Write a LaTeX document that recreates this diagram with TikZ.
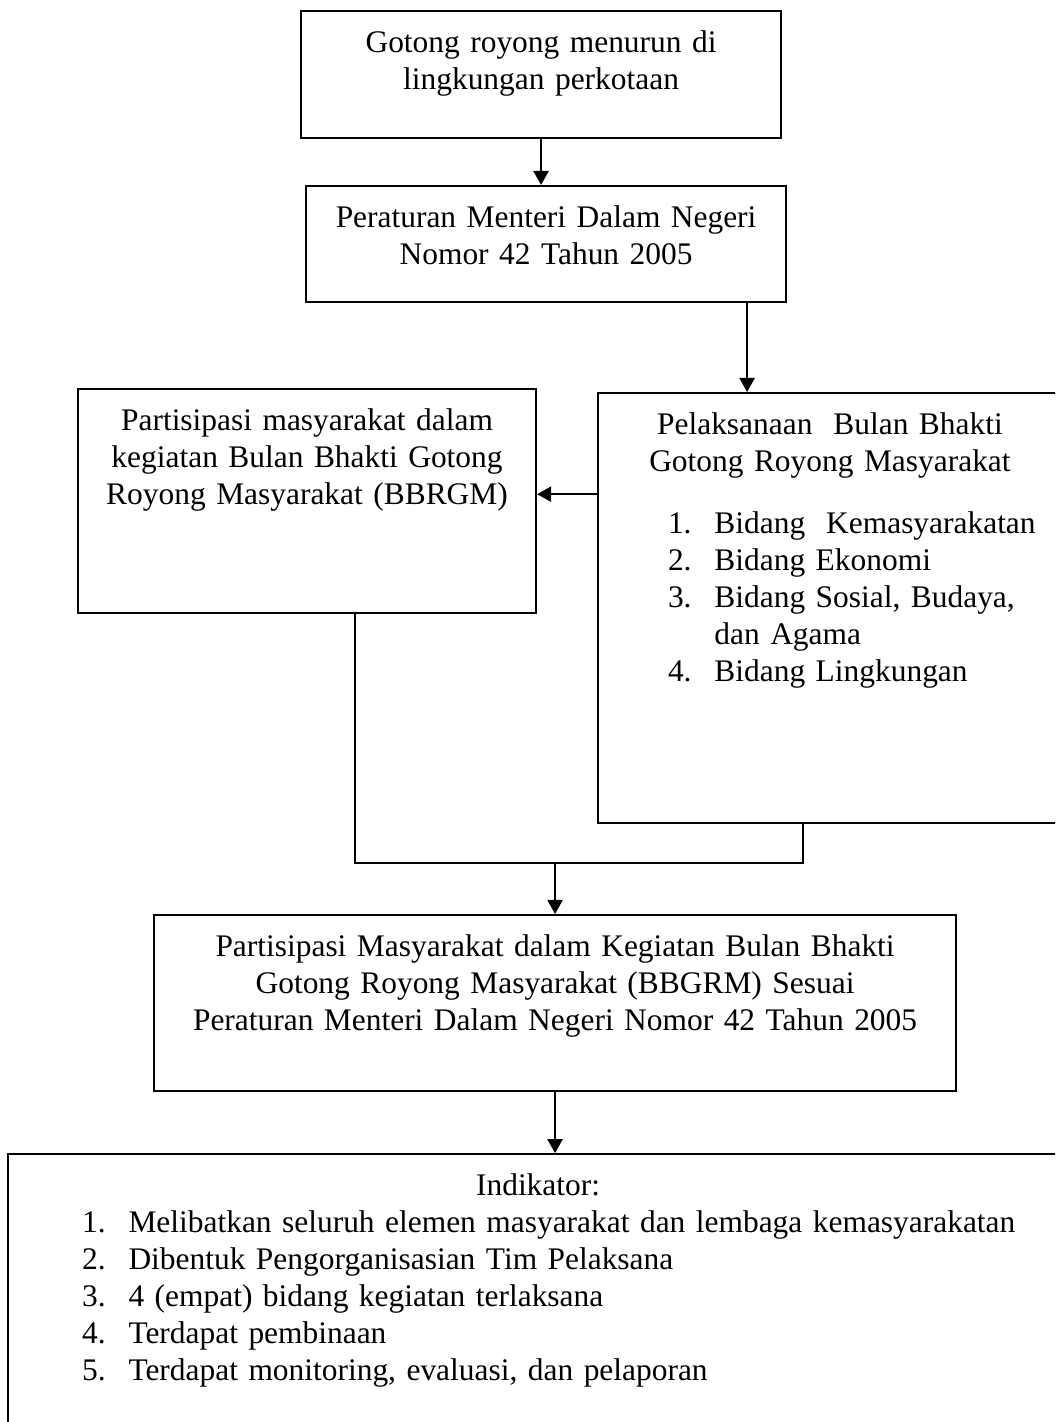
\documentclass[tikz,border=0pt]{standalone}
\usepackage{fontspec}
\setmainfont{Liberation Serif}
\usetikzlibrary{arrows.meta, positioning}

% numbered line inside a box: indent, number, text
\newcommand{\butir}[3]{\makebox[\linewidth][l]{\hspace*{#1}\makebox[17.5pt][l]{#2}#3}}

\begin{document}
\begin{tikzpicture}[
    x=0.377pt, y=-0.377pt,
    kotak/.style={rectangle, draw, line width=0.75pt, anchor=north west, align=center,
        inner xsep=0pt, inner ysep=6.5pt, text height=9pt,
        font=\fontsize{11.85pt}{13.95pt}\selectfont},
    panah/.style={-{Triangle[length=5.3pt, width=5.7pt]}, line width=0.75pt},
    garis/.style={line width=0.75pt}
]
    \useasboundingbox (0,0) rectangle (1055,1422);
    \clip (0,0) rectangle (1055,1422);

    \node[kotak, text width=181pt, text depth=25.9pt] (masalah) at (300,10)
        {Gotong royong menurun di\\ lingkungan perkotaan};
    \node[kotak, text width=181pt, text depth=21.7pt, below=17.3pt of masalah, xshift=1.9pt] (perda)
        {Peraturan Menteri Dalam Negeri\\ Nomor 42 Tahun 2005};
    \node[kotak, text width=172.7pt, text depth=62.5pt] (partisipasi) at (77,388)
        {Partisipasi masyarakat dalam\\ kegiatan Bulan Bhakti Gotong\\ Royong Masyarakat (BBRGM)};
    \node[kotak, text width=174.9pt, text depth=140.1pt] (pelaksanaan) at (597,392)
        {Pelaksanaan\ \ Bulan Bhakti\\ Gotong Royong Masyarakat\\[9.4pt]
         \butir{26.4pt}{1.}{Bidang\ \ Kemasyarakatan}\\
         \butir{26.4pt}{2.}{Bidang Ekonomi}\\
         \butir{26.4pt}{3.}{Bidang Sosial, Budaya,}\\
         \butir{26.4pt}{}{dan Agama}\\
         \butir{26.4pt}{4.}{Bidang Lingkungan}};
    \node[kotak, text width=302.4pt, text depth=44.4pt] (tengah) at (153,914)
        {Partisipasi Masyarakat dalam Kegiatan Bulan Bhakti\\
         Gotong Royong Masyarakat (BBGRM) Sesuai\\
         Peraturan Menteri Dalam Negeri Nomor 42 Tahun 2005};
    \node[kotak, text width=399.6pt, text depth=91pt, below=23pt of tengah, xshift=-6.4pt] (indikator)
        {Indikator:\\
         \butir{27.9pt}{1.}{Melibatkan seluruh elemen masyarakat dan lembaga kemasyarakatan}\\
         \butir{27.9pt}{2.}{Dibentuk Pengorganisasian Tim Pelaksana}\\
         \butir{27.9pt}{3.}{4 (empat) bidang kegiatan terlaksana}\\
         \butir{27.9pt}{4.}{Terdapat pembinaan}\\
         \butir{27.9pt}{5.}{Terdapat monitoring, evaluasi, dan pelaporan}};

    \coordinate (turun) at ([xshift=-15.1pt]perda.south east);
    \coordinate (sejajar) at ([yshift=2.6pt]partisipasi.east);
    \coordinate (kiri) at ([xshift=18.1pt]partisipasi.south);
    \coordinate (kanan) at ([xshift=-10.2pt]pelaksanaan.south);
    \coordinate (gabung) at ([yshift=19.2pt]tengah.north);

    \draw[panah] (masalah) -- (masalah |- perda.north);
    \draw[panah] (turun) -- (turun |- pelaksanaan.north);
    \draw[panah] (sejajar -| pelaksanaan.west) -- (sejajar);
    \draw[garis] (kiri) |- (gabung) -| (kanan);
    \draw[panah] (gabung) -- (tengah);
    \draw[panah] (tengah) -- (tengah |- indikator.north);
\end{tikzpicture}
\end{document}
